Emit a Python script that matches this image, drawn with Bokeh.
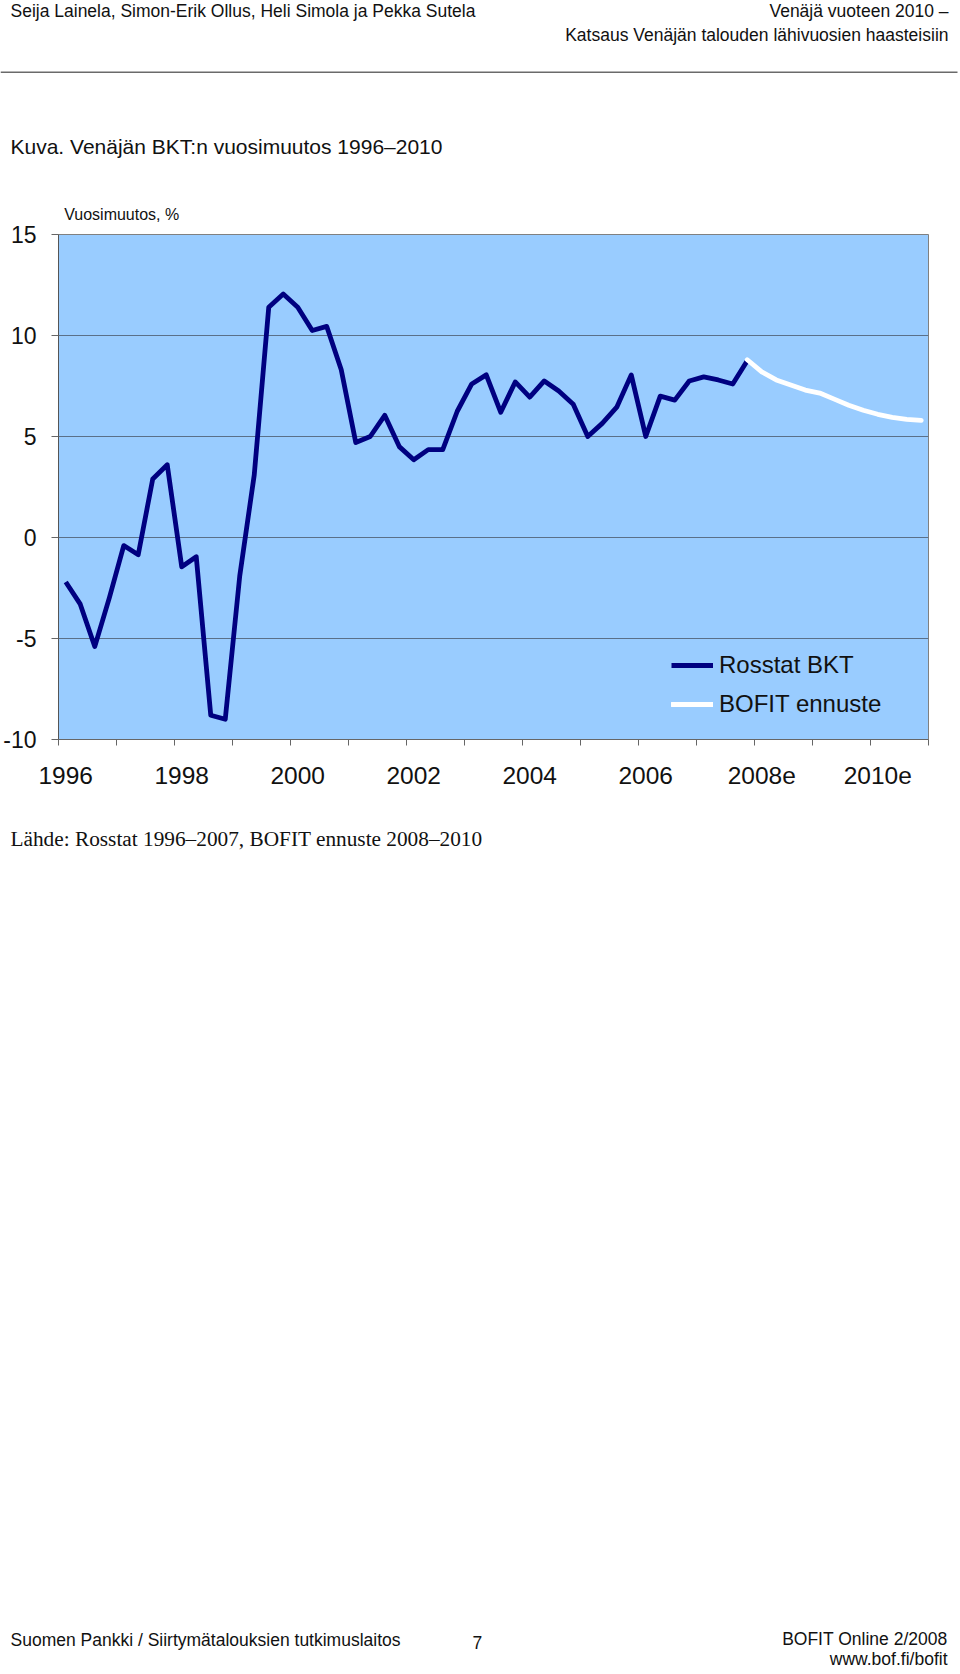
from bokeh.plotting import figure
from bokeh.layouts import column
from bokeh.models import Legend, LegendItem, FixedTicker, Range1d, Title
from bokeh.core.properties import value
from bokeh.embed import file_html
from bokeh.resources import INLINE

# ---------------- data ----------------
years = list(range(1996, 2011))
quarters = [f"{y}Q{q}" for y in years for q in (1, 2, 3, 4)]

# Rosstat quarterly GDP growth, % y/y (1996Q1 .. 2007Q4)
rosstat_gdp = [
    -2.2, -3.3, -5.4, -3.0,     # 1996
    -0.4, -0.85, 2.9, 3.6,      # 1997
    -1.45, -0.95, -8.8, -9.0,   # 1998
    -1.9, 3.1, 11.4, 12.05,     # 1999
    11.4, 10.25, 10.45, 8.3,    # 2000
    4.7, 5.0, 6.05, 4.5,        # 2001
    3.85, 4.35, 4.35, 6.25,     # 2002
    7.6, 8.05, 6.2, 7.7,        # 2003
    6.95, 7.75, 7.25, 6.6,      # 2004
    5.0, 5.65, 6.45, 8.05,      # 2005
    5.0, 7.0, 6.8, 7.75,        # 2006
    7.95, 7.8, 7.6, 8.75,       # 2007
]
rosstat_q = quarters[0:48]

# BOFIT forecast (2007Q4 .. 2010Q4)
bofit_forecast = [8.8, 8.2, 7.8, 7.55, 7.3, 7.15, 6.85, 6.55, 6.3, 6.1, 5.95, 5.85, 5.8]
bofit_q = quarters[47:60]

y_ticks = [-10, -5, 0, 5, 10, 15]
y_tick_labels = ["-10", "-5", "0", "5", "10", "15"]
x_label_years = ["1996", "1998", "2000", "2002", "2004", "2006", "2008e", "2010e"]
series_names = ["Rosstat BKT", "BOFIT ennuste"]

rosstat_x = [quarters.index(q) for q in rosstat_q]
bofit_x = [quarters.index(q) for q in bofit_q]

# ---------------- layout (page pixels) ----------------
W = 960
TOP_H = 184          # header block 0..184
MAIN_H = 616         # chart block 184..800
BOT_H = 872          # footer block 800..1672
SANS = "Liberation Sans"
SERIF = "Liberation Serif"
INK = "#111111"


def text_fig(h):
    f = figure(width=W, height=h, output_backend="svg", toolbar_location=None,
               x_range=Range1d(0, W), y_range=Range1d(h, 0),
               x_axis_type=None, y_axis_type=None, min_border=0,
               outline_line_color=None, background_fill_color="white",
               border_fill_color="white", frame_align=False)
    f.title.visible = False
    return f


def txt(f, y0, text, X, Y, size, font, align="left"):
    """X, Y: page position of the start/end of the text baseline."""
    px = float(size.replace("px", ""))
    f.text(x=[X], y=[Y - y0 - 0.43 * px], text=[text], text_font=value(font),
           text_font_size=value(size), text_align=align,
           text_baseline="alphabetic", text_color=INK)


# ---- header ----
top = text_fig(TOP_H)
txt(top, 0, "Seija Lainela, Simon-Erik Ollus, Heli Simola ja Pekka Sutela", 10, 18.5, "17.5px", SANS)
txt(top, 0, "Venäjä vuoteen 2010 –", 948, 18.5, "17.5px", SANS, "right")
txt(top, 0, "Katsaus Venäjän talouden lähivuosien haasteisiin", 948, 41.7, "17.5px", SANS, "right")
top.segment(x0=[0], y0=[71.7], x1=[957], y1=[71.7], line_color="#6a6a6a", line_width=1.5)
txt(top, 0, "Kuva. Venäjän BKT:n vuosimuutos 1996–2010", 10, 155, "21px", SANS)

# ---- chart ----
p = figure(width=W, height=MAIN_H, output_backend="svg", toolbar_location=None,
           x_range=Range1d(-0.5, len(quarters) - 0.5), y_range=Range1d(-10, 15),
           min_border_left=57, min_border_right=32,
           min_border_top=50, min_border_bottom=61,
           background_fill_color="#99CCFF", border_fill_color="white",
           outline_line_color="#808080", outline_line_width=1, frame_align=False)
p.title.visible = False
p.add_layout(Title(text="Vuosimuutos, %", align="left", offset=5.7, standoff=24,
                   text_font=SANS, text_font_size="16px", text_font_style="normal",
                   text_color=INK), "above")

p.yaxis.ticker = FixedTicker(ticks=y_ticks)
p.yaxis.major_label_overrides = dict(zip(y_ticks, y_tick_labels))
p.yaxis.major_label_text_font = SANS
p.yaxis.major_label_text_font_size = "23px"
p.yaxis.major_label_text_color = INK
p.yaxis.major_tick_out = 7
p.yaxis.major_tick_in = 0
p.yaxis.minor_tick_line_color = None
p.yaxis.major_tick_line_color = "#666666"
p.yaxis.axis_line_color = "#555555"
p.yaxis.major_label_standoff = 15

major_idx = [quarters.index(f"{y[:4]}Q1") for y in x_label_years]
p.xaxis.ticker = FixedTicker(ticks=major_idx,
                             minor_ticks=[i - 0.5 for i in range(0, len(quarters) + 1, 4)])
p.xaxis.major_label_overrides = {i: lab for i, lab in zip(major_idx, x_label_years)}
p.xaxis.major_tick_line_color = None
p.xaxis.major_tick_out = 0
p.xaxis.major_tick_in = 0
p.xaxis.minor_tick_out = 6
p.xaxis.minor_tick_in = 0
p.xaxis.minor_tick_line_color = "#666666"
p.xaxis.axis_line_color = "#666666"
p.xaxis.major_label_text_font = SANS
p.xaxis.major_label_text_font_size = "24.5px"
p.xaxis.major_label_text_color = INK
p.xaxis.major_label_standoff = 21

p.xgrid.visible = False
p.ygrid.grid_line_color = "#5a7089"
p.ygrid.grid_line_width = 1

r1 = p.line(rosstat_x, rosstat_gdp, line_color="#000080", line_width=4.8, line_join="round")
r2 = p.line(bofit_x, bofit_forecast, line_color="white", line_width=4.8,
            line_join="round", line_cap="round")

legend = Legend(items=[LegendItem(label=series_names[0], renderers=[r1]),
                       LegendItem(label=series_names[1], renderers=[r2])],
                location=(613, 21), background_fill_alpha=0, border_line_alpha=0,
                label_text_font=SANS, label_text_font_size="24px",
                label_text_color=INK,
                glyph_width=42, glyph_height=28, label_height=28,
                label_standoff=6, spacing=11, padding=0, margin=0)
p.add_layout(legend)

# ---- source + footer ----
bot = text_fig(BOT_H)
Y0 = TOP_H + MAIN_H
txt(bot, Y0, "Lähde: Rosstat 1996–2007, BOFIT ennuste 2008–2010", 10, 847.3, "21.3px", SERIF)
txt(bot, Y0, "Suomen Pankki / Siirtymätalouksien tutkimuslaitos", 10, 1647.3, "17.5px", SANS)
txt(bot, Y0, "7", 472, 1650, "17.5px", SANS)
txt(bot, Y0, "BOFIT Online 2/2008", 947, 1646, "17.5px", SANS, "right")
txt(bot, Y0, "www.bof.fi/bofit", 947, 1666, "17.5px", SANS, "right")

layout = column(top, p, bot, spacing=0)
open("out.html", "w").write(file_html(layout, INLINE))
